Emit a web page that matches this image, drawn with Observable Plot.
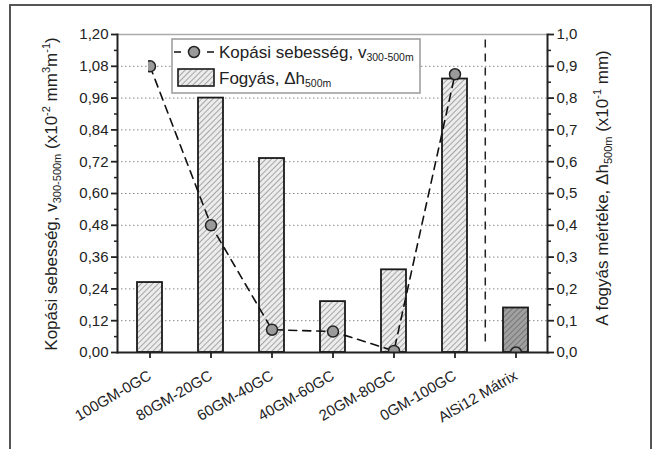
<!DOCTYPE html>
<html><head><meta charset="utf-8">
<script src="https://cdn.jsdelivr.net/npm/d3@7"></script>
<script src="https://cdn.jsdelivr.net/npm/@observablehq/plot@0.6"></script>
<style>
body{margin:0;background:#fff;}
#wrap{position:relative;width:657px;height:449px;overflow:hidden;}
#border{position:absolute;left:9px;top:4px;width:643px;height:460px;border:2px solid #555;box-sizing:border-box;pointer-events:none;}
</style></head>
<body><div id="wrap"><div id="chart"></div><div id="border"></div></div>
<script>
const categories = ["100GM-0GC","80GM-20GC","60GM-40GC","40GM-60GC","20GM-80GC","0GM-100GC","AlSi12 Mátrix"];
const wearRate = [1.08, 0.48, 0.086, 0.079, 0.006, 1.05, 0.0];   // left axis (x10^-2 mm3/m)
const wearLoss = [0.22, 0.80, 0.61, 0.16, 0.26, 0.86, 0.14];     // right axis (x10^-1 mm)
const leftTicks = [0,0.12,0.24,0.36,0.48,0.60,0.72,0.84,0.96,1.08,1.20];
const leftMinor = [0.06,0.18,0.30,0.42,0.54,0.66,0.78,0.90,1.02,1.14];
const rightTicks = [0,0.1,0.2,0.3,0.4,0.5,0.6,0.7,0.8,0.9,1.0];
const rightMinor = [0.05,0.15,0.25,0.35,0.45,0.55,0.65,0.75,0.85,0.95];
const ratio = 1.2; // right axis 1.0 == left axis 1.20

const rows = categories.map((c,i)=>({cat:c, rate:wearRate[i], loss:wearLoss[i], matrix: i===6}));
const composites = rows.filter(d=>!d.matrix);

const W=657,H=449, mL=117, mR=110, mT=34, mB=97;
const bw = (W-mL-mR)/categories.length;
const font = "Liberation Sans, Arial, sans-serif";
const comma = (d,n)=>d.toFixed(n).replace(".", ",");

const plot = Plot.plot({
  width:W, height:H, marginLeft:mL, marginRight:mR, marginTop:mT, marginBottom:mB,
  style:{fontFamily:font, fontSize:"15px", color:"#222", background:"transparent"},
  x:{type:"band", domain:categories, padding:0},
  y:{domain:[0,1.2]},
  marks:[
    Plot.ruleY(leftTicks.slice(1,-1), {stroke:"#888", strokeDasharray:"1.5,2.5", strokeWidth:1}),
    Plot.ruleY([1.2], {stroke:"#aaa", strokeWidth:1.5}),
    Plot.barY(rows, {x:"cat", y:d=>d.loss*ratio, fill:d=>d.matrix?"url(#hatchDark)":"url(#hatch)", stroke:"#1a1a1a", strokeWidth:1.8, insetLeft:18, insetRight:18}),
    Plot.ruleX(["AlSi12 Mátrix"], {y1:0.04, y2:1.2, dx:-bw/2, stroke:"#222", strokeWidth:1.5, strokeDasharray:"8,6"}),
    Plot.line(composites, {x:"cat", y:"rate", stroke:"#111", strokeWidth:1.6, strokeDasharray:"8,6"}),
    Plot.dot(rows, {x:"cat", y:"rate", r:5.5, fill:"#9a9a9a", stroke:"#222", strokeWidth:1.5}),
    Plot.frame({anchor:"left", stroke:"#222", strokeWidth:2}),
    Plot.frame({anchor:"right", stroke:"#222", strokeWidth:2}),
    Plot.frame({anchor:"bottom", stroke:"#222", strokeWidth:2}),
    Plot.axisY({ticks:leftTicks, tickSize:6, tickPadding:3, strokeWidth:1.8, tickFormat:d=>comma(d,2), label:null, fontSize:15}),
    Plot.axisY({ticks:leftMinor, tickSize:3, strokeWidth:1.5, tickFormat:()=>"", label:null}),
    Plot.axisY({anchor:"right", ticks:rightTicks.map(v=>v*ratio), tickSize:6, tickPadding:3, strokeWidth:1.8, tickFormat:d=>comma(d/ratio,1), label:null, fontSize:15}),
    Plot.axisY({anchor:"right", ticks:rightMinor.map(v=>v*ratio), tickSize:3, strokeWidth:1.5, tickFormat:()=>"", label:null}),
    Plot.axisX({tickSize:6, strokeWidth:1.8, tickRotate:-30, tickPadding:16, label:null, fontSize:15})
  ]
});

const svg = d3.select(plot);
const defs = svg.insert("defs", ":first-child");
function hatch(id, bg, line){
  const p = defs.append("pattern").attr("id",id).attr("patternUnits","userSpaceOnUse")
    .attr("width",4).attr("height",4).attr("patternTransform","rotate(45)");
  p.append("rect").attr("width",4).attr("height",4).attr("fill",bg);
  p.append("line").attr("x1",0).attr("y1",0).attr("x2",0).attr("y2",4).attr("stroke",line).attr("stroke-width",1.1);
}
hatch("hatch","#ececec","#6a6a6a");
hatch("hatchDark","#a0a0a0","#555");
defs.append("clipPath").attr("id","plotClip").append("rect")
  .attr("x",mL).attr("y",mT).attr("width",W-mL-mR).attr("height",H-mT-mB);
svg.selectAll('g[aria-label="dot"]').attr("clip-path","url(#plotClip)");

// axis titles
const lab = svg.append("g").attr("font-family",font).attr("fill","#222");
const lt = lab.append("text").attr("transform","translate(57,194) rotate(-90)").attr("text-anchor","middle").attr("font-size",17);
lt.append("tspan").text("Kopási sebesség, v");
lt.append("tspan").attr("font-size",11).attr("dy",4).text("300-500m");
lt.append("tspan").attr("dy",-4).text(" (x10");
lt.append("tspan").attr("font-size",11).attr("dy",-7).text("-2");
lt.append("tspan").attr("dy",7).text(" mm");
lt.append("tspan").attr("font-size",11).attr("dy",-7).text("3");
lt.append("tspan").attr("dy",7).text("m");
lt.append("tspan").attr("font-size",11).attr("dy",-7).text("-1");
lt.append("tspan").attr("dy",7).text(")");

const rt = lab.append("text").attr("transform","translate(608,188) rotate(-90)").attr("text-anchor","middle").attr("font-size",17);
rt.append("tspan").text("A fogyás mértéke, Δh");
rt.append("tspan").attr("font-size",11).attr("dy",4).text("500m");
rt.append("tspan").attr("dy",-4).text(" (x10");
rt.append("tspan").attr("font-size",11).attr("dy",-7).text("-1");
rt.append("tspan").attr("dy",7).text(" mm)");

// legend
const lg = svg.append("g").attr("font-family",font).attr("font-size",17).attr("fill","#222").attr("text-anchor","start");
lg.append("rect").attr("x",172).attr("y",39).attr("width",248).attr("height",54).attr("fill","#fff").attr("stroke","#999").attr("stroke-width",1.5);
lg.append("line").attr("x1",174).attr("x2",214).attr("y1",52).attr("y2",52).attr("stroke","#111").attr("stroke-width",1.6).attr("stroke-dasharray","7,26");
lg.append("circle").attr("cx",194).attr("cy",52).attr("r",5.5).attr("fill","#9a9a9a").attr("stroke","#222").attr("stroke-width",1.5);
lg.append("rect").attr("x",178).attr("y",69).attr("width",36).attr("height",17).attr("fill","url(#hatch)").attr("stroke","#1a1a1a").attr("stroke-width",1.6);
const t1 = lg.append("text").attr("x",219).attr("y",58).attr("text-anchor","start");
t1.append("tspan").text("Kopási sebesség, v");
t1.append("tspan").attr("font-size",10.5).attr("dy",3).text("300-500m");
const t2 = lg.append("text").attr("x",219).attr("y",84).attr("text-anchor","start");
t2.append("tspan").text("Fogyás, Δh");
t2.append("tspan").attr("font-size",10.5).attr("dy",3).text("500m");

document.getElementById("chart").appendChild(plot);
</script></body></html>
